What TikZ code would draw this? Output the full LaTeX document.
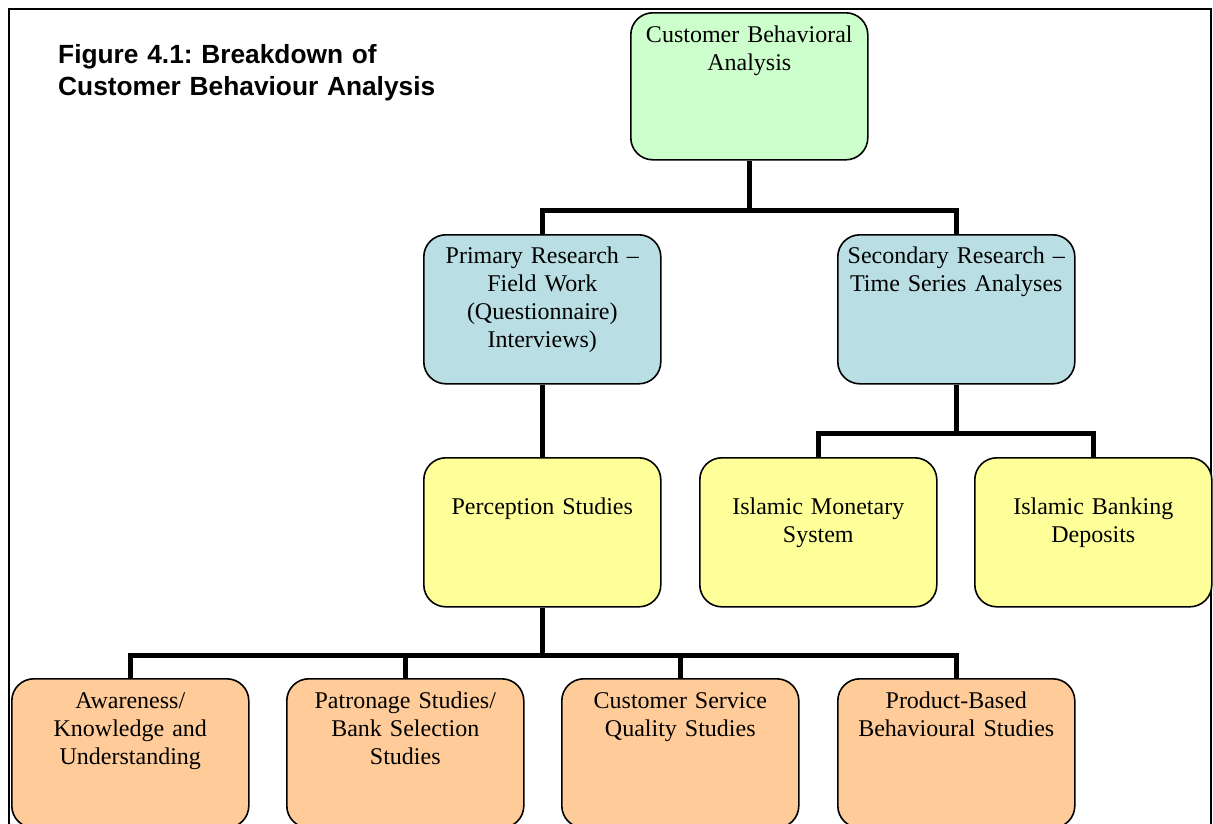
\documentclass[tikz,border=0pt]{standalone}
\usepackage{fontspec}
\setmainfont{Liberation Serif}
\newfontfamily\titlefont{Liberation Sans}
\definecolor{cgreen}{HTML}{CCFFCC}
\definecolor{cblue}{HTML}{B9DEE4}
\definecolor{cyellow}{HTML}{FFFF99}
\definecolor{corange}{HTML}{FFCC99}
\tikzset{
  tbox/.style={draw=black, line width=1.6pt, rounded corners=22pt, inner sep=0pt,
    anchor=north west, minimum width=237pt, text width=230pt, align=center,
    text height=29pt, text depth=120pt,
    font=\fontsize{24}{28}\selectfont},
  lowtext/.style={text height=57pt, text depth=92pt},
  conn/.style={draw=black, line width=5pt},
  frame/.style={draw=black, line width=1.5pt},
}
\begin{document}
\frenchspacing
\begin{tikzpicture}[x=1pt,y=-1pt]
\useasboundingbox (0,0) rectangle (1213,823);
\clip (0,0) rectangle (1213,823);
\fill[white] (0,0) rectangle (1213,823);
\draw[frame] (9,9) rectangle (1211,860);

\node[anchor=base west, text width=420pt, align=left, inner sep=0pt,
  font=\titlefont\bfseries\fontsize{26.3}{32.5}\selectfont\frenchspacing] (title) at (58,63)
  {Figure 4.1: Breakdown of\\Customer Behaviour Analysis};

% boxes
\node[tbox, fill=cgreen, text height=30pt, text depth=117pt] (root) at (630,12) {Customer Behavioral\\Analysis};
\node[tbox, fill=cblue] (prim) at (423,234) {Primary Research --\\Field Work\\(Questionnaire)\\Interviews)};
\node[tbox, fill=cblue] (sec) at (837,234) {Secondary Research --\\Time Series Analyses};
\node[tbox, fill=cyellow, lowtext] (perc) at (423,457) {Perception Studies};
\node[tbox, fill=cyellow, lowtext] (mon) at (699,457) {Islamic Monetary\\System};
\node[tbox, fill=cyellow, lowtext] (bank) at (974,457) {Islamic Banking\\Deposits};
\node[tbox, fill=corange, text height=30pt, text depth=119pt] (aware) at (11,678) {Awareness/\\Knowledge and\\Understanding};
\node[tbox, fill=corange, text height=30pt, text depth=119pt] (patr) at (286,678) {Patronage Studies/\\Bank Selection\\Studies};
\node[tbox, fill=corange, text height=30pt, text depth=119pt] (serv) at (561,678) {Customer Service\\Quality Studies};
\node[tbox, fill=corange, text height=30pt, text depth=119pt] (prod) at (837,678) {Product-Based\\Behavioural Studies};

% bus coordinates
\coordinate (bus1) at (root.south |- 0,210);
\coordinate (bus2) at (sec.south |- 0,433);
\coordinate (bus3) at (perc.south |- 0,655);

% connectors
\draw[conn] (root.south) -- (bus1);
\draw[conn] (prim.north) |- (bus1) -| (sec.north);
\draw[conn] (prim.south) -- (perc.north);
\draw[conn] (sec.south) -- (bus2);
\draw[conn] (mon.north) |- (bus2) -| (bank.north);
\draw[conn] (perc.south) -- (bus3);
\draw[conn] (aware.north) |- (bus3) -| (prod.north);
\draw[conn] (patr.north) -- (patr.north |- bus3);
\draw[conn] (serv.north) -- (serv.north |- bus3);
\end{tikzpicture}
\end{document}
